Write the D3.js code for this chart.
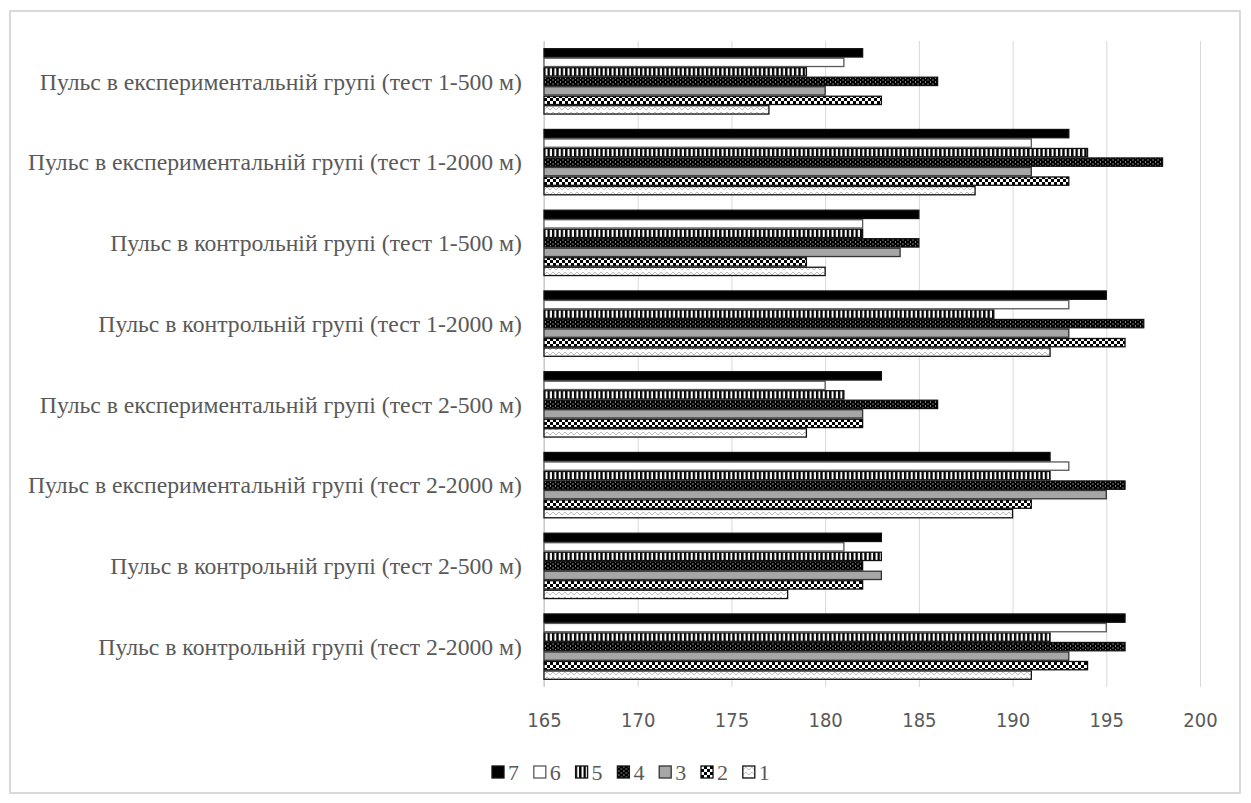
<!DOCTYPE html>
<html>
<head>
<meta charset="utf-8">
<script src="https://cdn.jsdelivr.net/npm/d3@7"></script>
<style>
	body { margin: 0; background: #fff; }
	.cat text { font-family: "Liberation Serif", "Times New Roman", serif; font-size: 23.7px; fill: #595959; }
	.xaxis text { font-family: "DejaVu Sans Condensed", Carlito, sans-serif; font-size: 20px; fill: #595959; }
	.legend text { font-family: "Liberation Serif", "Times New Roman", serif; font-size: 22px; fill: #595959; }
</style>
</head>
<body>
<script>
// categories, top to bottom
var categories = [
	'Пульс в експериментальній групі (тест 1-500 м)',
	'Пульс в експериментальній групі (тест 1-2000 м)',
	'Пульс в контрольній групі (тест 1-500 м)',
	'Пульс в контрольній групі (тест 1-2000 м)',
	'Пульс в експериментальній групі (тест 2-500 м)',
	'Пульс в експериментальній групі (тест 2-2000 м)',
	'Пульс в контрольній групі (тест 2-500 м)',
	'Пульс в контрольній групі (тест 2-2000 м)'
];
var seriesNames = ['1', '2', '3', '4', '5', '6', '7'];
var s1 = [177, 188, 180, 192, 179, 190, 178, 191];
var s2 = [183, 193, 179, 196, 182, 191, 182, 194];
var s3 = [180, 191, 184, 193, 182, 195, 183, 193];
var s4 = [186, 198, 185, 197, 186, 196, 182, 196];
var s5 = [179, 194, 182, 189, 181, 192, 183, 192];
var s6 = [181, 191, 182, 193, 180, 193, 181, 195];
var s7 = [182, 193, 185, 195, 183, 192, 183, 196];
var xTicks = [165, 170, 175, 180, 185, 190, 195, 200];

var seriesValues = [s1, s2, s3, s4, s5, s6, s7];
var W = 1251, H = 803;
var margin = {top: 41, left: 544, right: 51, bottom: 116};
var width = W - margin.left - margin.right, height = H - margin.top - margin.bottom;

var svg = d3.select('body').append('svg').attr('width', W).attr('height', H);
var defs = svg.append('defs');

// fill patterns, one per series
function pattern(id, w, h, bg) {
	var p = defs.append('pattern').attr('id', id).attr('patternUnits', 'userSpaceOnUse')
		.attr('width', w).attr('height', h);
	p.append('rect').attr('width', w).attr('height', h).attr('fill', bg);
	return p;
}
var p1 = pattern('pat1', 6, 5, '#fff');
p1.append('path').attr('d', 'M0,4 L3,1 L6,4').attr('fill', 'none').attr('stroke', '#bdbdbd').attr('stroke-width', 1);
var p2 = pattern('pat2', 6, 6, '#000');
p2.append('rect').attr('x', 0).attr('y', 0).attr('width', 3).attr('height', 3).attr('fill', '#fff');
p2.append('rect').attr('x', 3).attr('y', 3).attr('width', 3).attr('height', 3).attr('fill', '#fff');
var p4 = pattern('pat4', 5, 4, '#000');
p4.append('rect').attr('x', 1).attr('y', 0.5).attr('width', 1).attr('height', 1).attr('fill', '#fff');
p4.append('rect').attr('x', 3.5).attr('y', 2.5).attr('width', 1).attr('height', 1).attr('fill', '#fff');
var p5 = pattern('pat5', 4.4, 10, '#000');
p5.append('rect').attr('x', 1.5).attr('y', 0).attr('width', 2).attr('height', 10).attr('fill', '#fff');

var fills = ['url(#pat1)', 'url(#pat2)', '#a6a6a6', 'url(#pat4)', 'url(#pat5)', '#fff', '#000'];
var strokes = ['#111', '#111', '#333', '#111', '#111', '#595959', '#111'];

// chart frame
svg.append('rect').attr('x', 10).attr('y', 11).attr('width', W - 21).attr('height', H - 21)
	.attr('fill', 'none').attr('stroke', '#d9d9d9').attr('stroke-width', 2);

var panel = svg.append('g').attr('transform', 'translate(' + margin.left + ',' + margin.top + ')');

var x = d3.scaleLinear().domain([165, 200]).range([0, width]);
var y = d3.scaleBand().domain(categories).range([0, height]).paddingInner(0.176).paddingOuter(0.088);
// series 7 on top, series 1 at the bottom of each group
var ys = d3.scaleBand().domain(seriesNames.slice().reverse()).range([0, y.bandwidth()]);

var xAxis = panel.append('g').attr('class', 'xaxis').attr('transform', 'translate(0,' + height + ')')
	.call(d3.axisBottom(x).tickValues(xTicks).tickSize(-height).tickPadding(26).tickFormat(d3.format('d')));
xAxis.select('.domain').remove();
xAxis.selectAll('line').attr('stroke', '#d9d9d9').attr('stroke-width', 1);

panel.append('line').attr('x1', 0).attr('x2', 0).attr('y1', 0).attr('y2', height)
	.attr('stroke', '#bfbfbf').attr('stroke-width', 1);

for (var idx = 0; idx < seriesNames.length; idx++) {
	var vals = seriesValues[idx];
	panel.append('g').attr('class', 'bars_' + seriesNames[idx])
		.selectAll('rect').data(categories).enter().append('rect')
		.attr('x', x(165))
		.attr('y', function (d) { return y(d) + ys(seriesNames[idx]) + 0.6; })
		.attr('width', function (d, i) { return x(vals[i]) - x(165); })
		.attr('height', ys.bandwidth() - 1.2)
		.attr('fill', fills[idx])
		.attr('stroke', strokes[idx])
		.attr('stroke-width', 1.3);
}

var cat = panel.append('g').attr('class', 'cat');
cat.selectAll('text').data(categories).enter().append('text')
	.attr('x', -22)
	.attr('y', function (d) { return y(d) + y.bandwidth() / 2; })
	.attr('dy', '0.35em')
	.attr('text-anchor', 'end')
	.text(function (d) { return d; });

// legend, series 7 first
var legend = svg.append('g').attr('class', 'legend').attr('transform', 'translate(492,766)');
var order = seriesNames.map(function (d, i) { return i; }).reverse();
var item = legend.selectAll('g').data(order).enter().append('g')
	.attr('transform', function (d, i) { return 'translate(' + (i * 41.8) + ',0)'; });
item.append('rect').attr('width', 12).attr('height', 12)
	.attr('fill', function (d) { return fills[d]; })
	.attr('stroke', function (d) { return strokes[d]; })
	.attr('stroke-width', 1.3);
item.append('text').attr('x', 16).attr('y', 14).text(function (d) { return seriesNames[d]; });
</script>
</body>
</html>
